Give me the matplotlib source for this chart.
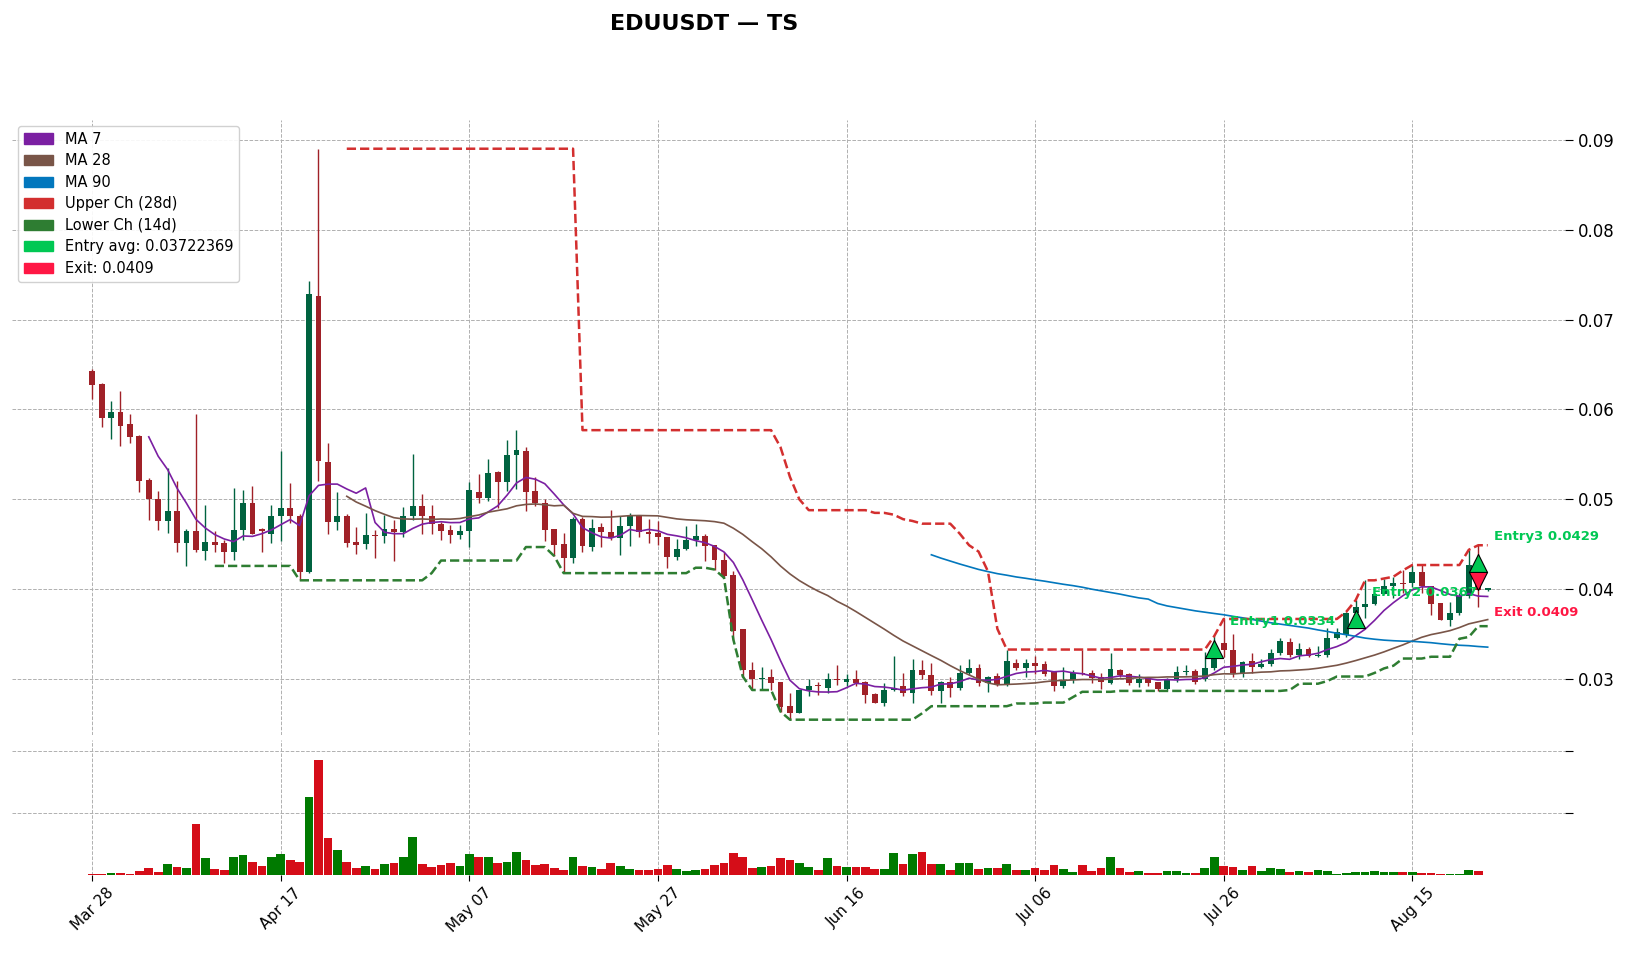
import numpy as np
import pandas as pd
import matplotlib
matplotlib.use("Agg")
import matplotlib.pyplot as plt
from matplotlib.patches import Patch

# daily OHLC (day 0 = Mar 28)
OPEN = [0.0643, 0.0628, 0.0591, 0.0597, 0.0584, 0.0570, 0.0522, 0.0500, 0.0476, 0.0487,
        0.0451, 0.0465, 0.0443, 0.0453, 0.0451, 0.0442, 0.0466, 0.0496, 0.0467, 0.0462,
        0.0482, 0.0490, 0.0482, 0.0419, 0.0726, 0.0542, 0.0475, 0.0482, 0.0453, 0.0450,
        0.0460, 0.0459, 0.0467, 0.0464, 0.0482, 0.0493, 0.0482, 0.0473, 0.0466, 0.0460,
        0.0465, 0.0508, 0.0501, 0.0530, 0.0519, 0.0549, 0.0554, 0.0509, 0.0496, 0.0467,
        0.0450, 0.0435, 0.0478, 0.0447, 0.0469, 0.0464, 0.0457, 0.0470, 0.0481, 0.0464,
        0.0463, 0.0458, 0.0436, 0.0445, 0.0455, 0.0459, 0.0449, 0.0433, 0.0416, 0.0356,
        0.0310, 0.0300, 0.0302, 0.0297, 0.0270, 0.0262, 0.0288, 0.0294, 0.0290, 0.0300,
        0.0297, 0.0300, 0.0297, 0.0284, 0.0274, 0.0288, 0.0293, 0.0285, 0.0310, 0.0305,
        0.0287, 0.0297, 0.0290, 0.0307, 0.0312, 0.0296, 0.0304, 0.0294, 0.0318, 0.0313,
        0.0318, 0.0317, 0.0308, 0.0292, 0.0299, 0.0307, 0.0307, 0.0303, 0.0296, 0.0310,
        0.0306, 0.0296, 0.0302, 0.0297, 0.0289, 0.0300, 0.0308, 0.0309, 0.0300, 0.0312,
        0.0340, 0.0333, 0.0307, 0.0320, 0.0314, 0.0317, 0.0329, 0.0341, 0.0327, 0.0334,
        0.0326, 0.0327, 0.0346, 0.0349, 0.0374, 0.0380, 0.0384, 0.0395, 0.0404, 0.0407,
        0.0407, 0.0419, 0.0404, 0.0385, 0.0366, 0.0374, 0.0393, 0.0421, 0.0399]
CLOSE = [0.0627, 0.0591, 0.0597, 0.0582, 0.0569, 0.0521, 0.0500, 0.0476, 0.0487, 0.0452,
         0.0465, 0.0444, 0.0453, 0.0449, 0.0442, 0.0466, 0.0496, 0.0462, 0.0465, 0.0482,
         0.0490, 0.0482, 0.0419, 0.0728, 0.0543, 0.0475, 0.0482, 0.0452, 0.0449, 0.0460,
         0.0459, 0.0467, 0.0464, 0.0482, 0.0493, 0.0482, 0.0473, 0.0465, 0.0460, 0.0465,
         0.0510, 0.0501, 0.0529, 0.0519, 0.0549, 0.0555, 0.0508, 0.0496, 0.0466, 0.0449,
         0.0435, 0.0478, 0.0448, 0.0468, 0.0464, 0.0457, 0.0470, 0.0481, 0.0464, 0.0462,
         0.0458, 0.0436, 0.0445, 0.0455, 0.0459, 0.0448, 0.0433, 0.0415, 0.0354, 0.0310,
         0.0300, 0.0301, 0.0296, 0.0269, 0.0262, 0.0288, 0.0293, 0.0292, 0.0300, 0.0299,
         0.0300, 0.0296, 0.0282, 0.0274, 0.0288, 0.0290, 0.0285, 0.0310, 0.0305, 0.0287,
         0.0297, 0.0290, 0.0307, 0.0312, 0.0296, 0.0303, 0.0294, 0.0320, 0.0313, 0.0318,
         0.0315, 0.0306, 0.0292, 0.0299, 0.0307, 0.0306, 0.0301, 0.0297, 0.0311, 0.0305,
         0.0296, 0.0300, 0.0296, 0.0289, 0.0300, 0.0308, 0.0309, 0.0297, 0.0312, 0.0334,
         0.0333, 0.0307, 0.0319, 0.0314, 0.0317, 0.0329, 0.0342, 0.0327, 0.0334, 0.0326,
         0.0327, 0.0346, 0.0352, 0.0374, 0.0380, 0.0384, 0.0395, 0.0404, 0.0407, 0.0406,
         0.0419, 0.0404, 0.0384, 0.0366, 0.0374, 0.0393, 0.0427, 0.0399, 0.0401]
HIGH = [0.0645, 0.0629, 0.0609, 0.0620, 0.0595, 0.0572, 0.0524, 0.0509, 0.0535, 0.0520,
        0.0467, 0.0595, 0.0494, 0.0465, 0.0455, 0.0513, 0.0510, 0.0515, 0.0468, 0.0494,
        0.0554, 0.0518, 0.0484, 0.0743, 0.0890, 0.0563, 0.0508, 0.0484, 0.0469, 0.0485,
        0.0466, 0.0483, 0.0477, 0.0491, 0.0551, 0.0506, 0.0494, 0.0475, 0.0471, 0.0472,
        0.0519, 0.0528, 0.0545, 0.0532, 0.0566, 0.0577, 0.0558, 0.0525, 0.0500, 0.0467,
        0.0463, 0.0480, 0.0480, 0.0478, 0.0474, 0.0488, 0.0481, 0.0485, 0.0483, 0.0478,
        0.0476, 0.0458, 0.0456, 0.0470, 0.0473, 0.0462, 0.0449, 0.0442, 0.0420, 0.0356,
        0.0319, 0.0314, 0.0311, 0.0297, 0.0285, 0.0288, 0.0300, 0.0297, 0.0307, 0.0316,
        0.0306, 0.0310, 0.0298, 0.0285, 0.0296, 0.0326, 0.0307, 0.0323, 0.0321, 0.0318,
        0.0298, 0.0303, 0.0316, 0.0323, 0.0317, 0.0304, 0.0307, 0.0333, 0.0323, 0.0323,
        0.0326, 0.0320, 0.0308, 0.0314, 0.0310, 0.0333, 0.0310, 0.0307, 0.0329, 0.0311,
        0.0307, 0.0306, 0.0303, 0.0297, 0.0301, 0.0315, 0.0316, 0.0311, 0.0330, 0.0348,
        0.0367, 0.0350, 0.0320, 0.0329, 0.0323, 0.0334, 0.0346, 0.0346, 0.0340, 0.0336,
        0.0337, 0.0357, 0.0357, 0.0375, 0.0388, 0.0410, 0.0396, 0.0412, 0.0414, 0.0421,
        0.0427, 0.0427, 0.0404, 0.0385, 0.0386, 0.0396, 0.0444, 0.0449, 0.0402]
LOW = [0.0612, 0.0580, 0.0567, 0.0559, 0.0563, 0.0508, 0.0477, 0.0466, 0.0463, 0.0442,
       0.0426, 0.0442, 0.0433, 0.0442, 0.0429, 0.0433, 0.0455, 0.0461, 0.0442, 0.0452,
       0.0454, 0.0474, 0.0410, 0.0418, 0.0520, 0.0462, 0.0466, 0.0447, 0.0439, 0.0445,
       0.0435, 0.0451, 0.0432, 0.0458, 0.0477, 0.0462, 0.0462, 0.0455, 0.0451, 0.0456,
       0.0447, 0.0496, 0.0498, 0.0490, 0.0509, 0.0511, 0.0487, 0.0493, 0.0454, 0.0437,
       0.0418, 0.0429, 0.0441, 0.0443, 0.0447, 0.0455, 0.0438, 0.0448, 0.0458, 0.0452,
       0.0449, 0.0424, 0.0433, 0.0444, 0.0448, 0.0432, 0.0422, 0.0413, 0.0344, 0.0303,
       0.0288, 0.0289, 0.0288, 0.0264, 0.0255, 0.0262, 0.0281, 0.0283, 0.0285, 0.0294,
       0.0292, 0.0292, 0.0273, 0.0273, 0.0270, 0.0287, 0.0281, 0.0273, 0.0300, 0.0283,
       0.0274, 0.0280, 0.0288, 0.0305, 0.0292, 0.0286, 0.0292, 0.0292, 0.0310, 0.0303,
       0.0306, 0.0304, 0.0287, 0.0290, 0.0296, 0.0305, 0.0296, 0.0289, 0.0295, 0.0302,
       0.0294, 0.0291, 0.0292, 0.0287, 0.0288, 0.0297, 0.0305, 0.0295, 0.0298, 0.0310,
       0.0325, 0.0303, 0.0303, 0.0307, 0.0312, 0.0315, 0.0327, 0.0325, 0.0323, 0.0325,
       0.0325, 0.0325, 0.0345, 0.0347, 0.0359, 0.0368, 0.0383, 0.0395, 0.0390, 0.0396,
       0.0403, 0.0396, 0.0371, 0.0366, 0.0359, 0.0371, 0.0390, 0.0380, 0.0398]
# volume in units of the volume-panel grid step
VOLUME = [0.01, 0.01, 0.03, 0.03, 0.01, 0.065, 0.115, 0.05, 0.18, 0.13,
          0.115, 0.815, 0.28, 0.10, 0.08, 0.29, 0.33, 0.21, 0.15, 0.29,
          0.34, 0.245, 0.21, 1.255, 1.86, 0.59, 0.41, 0.21, 0.115, 0.15,
          0.10, 0.18, 0.195, 0.29, 0.62, 0.18, 0.13, 0.165, 0.195, 0.15,
          0.34, 0.29, 0.29, 0.195, 0.21, 0.375, 0.245, 0.165, 0.18, 0.115,
          0.08, 0.29, 0.15, 0.13, 0.10, 0.195, 0.15, 0.10, 0.08, 0.08,
          0.10, 0.165, 0.10, 0.065, 0.08, 0.10, 0.165, 0.195, 0.36, 0.29,
          0.115, 0.13, 0.15, 0.28, 0.245, 0.195, 0.13, 0.08, 0.28, 0.15,
          0.13, 0.13, 0.13, 0.10, 0.10, 0.36, 0.18, 0.34, 0.375, 0.18,
          0.18, 0.08, 0.195, 0.195, 0.10, 0.115, 0.115, 0.18, 0.08, 0.08,
          0.115, 0.08, 0.165, 0.10, 0.05, 0.165, 0.065, 0.115, 0.29, 0.115,
          0.05, 0.065, 0.03, 0.03, 0.065, 0.065, 0.03, 0.03, 0.115, 0.29,
          0.15, 0.13, 0.08, 0.15, 0.065, 0.115, 0.10, 0.05, 0.065, 0.05,
          0.08, 0.065, 0.015, 0.03, 0.05, 0.05, 0.065, 0.05, 0.05, 0.05,
          0.05, 0.03, 0.03, 0.015, 0.015, 0.015, 0.08, 0.065, 0.005]

ENTRY_DAYS   = [119, 134, 147]
ENTRY_PRICES = [0.0334, 0.0367, 0.0429]
EXIT_DAY, EXIT_PRICE = 147, 0.0409
ENTRY_AVG = 0.03722369

UP, DOWN       = "#006340", "#a02128"
VUP, VDOWN     = "#007a00", "#d50d18"
C_MA7, C_MA28, C_MA90 = "#7b1fa2", "#795548", "#0277bd"
C_UP_CH, C_LO_CH = "#d32f2f", "#2e7d32"
C_ENTRY, C_EXIT  = "#00c853", "#ff1744"

dates = pd.date_range("2025-03-28", periods=len(CLOSE), freq="D")
df = pd.DataFrame({"o": OPEN, "h": HIGH, "l": LOW, "c": CLOSE, "v": VOLUME}, index=dates)
x = np.arange(len(df))
ma7  = df.c.rolling(7).mean()
ma28 = df.c.rolling(28).mean()
ma90 = df.c.rolling(90).mean()
upper = df.h.rolling(28).max()
lower = df.l.rolling(14).min()

fig = plt.figure(figsize=(16.27, 9.55), dpi=100)
ax  = fig.add_axes([0.0074, 0.2304, 0.9545, 0.644])
vax = fig.add_axes([0.0074, 0.0838, 0.9545, 0.1414], sharex=ax)

up = df.c >= df.o
for a in (ax, vax):
    for s in a.spines.values():
        s.set_visible(False)
    a.grid(True, linestyle="--", color="#b0b0b0", linewidth=0.7)
    a.set_axisbelow(True)
    a.yaxis.tick_right()

# candles
col = np.where(up, UP, DOWN)
ax.vlines(x, df.l, df.h, colors=col, linewidth=1.0, zorder=2)
ax.bar(x, (df.c - df.o).abs().clip(lower=0.00008), bottom=np.minimum(df.o, df.c),
       width=0.62, color=col, zorder=3)

ax.plot(x, ma7, color=C_MA7, lw=1.2, zorder=4)
ax.plot(x, ma28, color=C_MA28, lw=1.2, zorder=4)
ax.plot(x, ma90, color=C_MA90, lw=1.2, zorder=4)
ax.plot(x, upper, color=C_UP_CH, lw=1.8, ls="--", zorder=4)
ax.plot(x, lower, color=C_LO_CH, lw=1.8, ls="--", zorder=4)

ax.scatter(ENTRY_DAYS, ENTRY_PRICES, marker="^", s=170, color=C_ENTRY,
           edgecolors="black", linewidths=0.8, zorder=6)
ax.scatter([EXIT_DAY], [EXIT_PRICE], marker="v", s=170, color=C_EXIT,
           edgecolors="black", linewidths=0.8, zorder=6)
for i, (d, p) in enumerate(zip(ENTRY_DAYS, ENTRY_PRICES)):
    ax.text(d + 1.7, p + 0.003, f"Entry{i+1} {p}", color=C_ENTRY, fontsize=9.5,
            fontweight="bold", va="center", zorder=7)
ax.text(EXIT_DAY + 1.7, EXIT_PRICE - 0.0035, f"Exit {EXIT_PRICE}", color=C_EXIT,
        fontsize=9.5, fontweight="bold", va="center", zorder=7)

ax.set_xlim(-8.5, 156.2)
ax.set_ylim(0.0238, 0.0922)
ax.set_yticks([0.03, 0.04, 0.05, 0.06, 0.07, 0.08, 0.09])
ax.set_yticklabels(["0.03", "0.04", "0.05", "0.06", "0.07", "0.08", "0.09"])
ax.tick_params(axis="y", labelsize=12, length=6)
ax.tick_params(axis="x", labelbottom=False, length=0)

# volume
vax.bar(x, df.v, width=0.92, color=np.where(up, VUP, VDOWN))
vax.set_ylim(0, 2.18)
vax.set_yticks([1, 2])
vax.set_yticklabels(["", ""])
vax.tick_params(axis="y", length=6)
ticks = x[::20]
vax.set_xticks(ticks)
vax.set_xticklabels([dates[t].strftime("%b %d") for t in ticks], rotation=45,
                    ha="center", fontsize=11)
vax.tick_params(axis="x", length=4)

handles = [Patch(color=C_MA7, label="MA 7"), Patch(color=C_MA28, label="MA 28"),
           Patch(color=C_MA90, label="MA 90"), Patch(color=C_UP_CH, label="Upper Ch (28d)"),
           Patch(color=C_LO_CH, label="Lower Ch (14d)"),
           Patch(color=C_ENTRY, label=f"Entry avg: {ENTRY_AVG}"),
           Patch(color=C_EXIT, label=f"Exit: {EXIT_PRICE}")]
ax.legend(handles=handles, loc="upper left", fontsize=10.5, bbox_to_anchor=(0.0, 1.0),
          framealpha=0.9, borderaxespad=0.4, labelspacing=0.45)

fig.text(0.433, 0.975, "EDUUSDT — TS", fontsize=16, fontweight="bold",
         ha="center", va="center")

fig.savefig("out.png", dpi=100)
